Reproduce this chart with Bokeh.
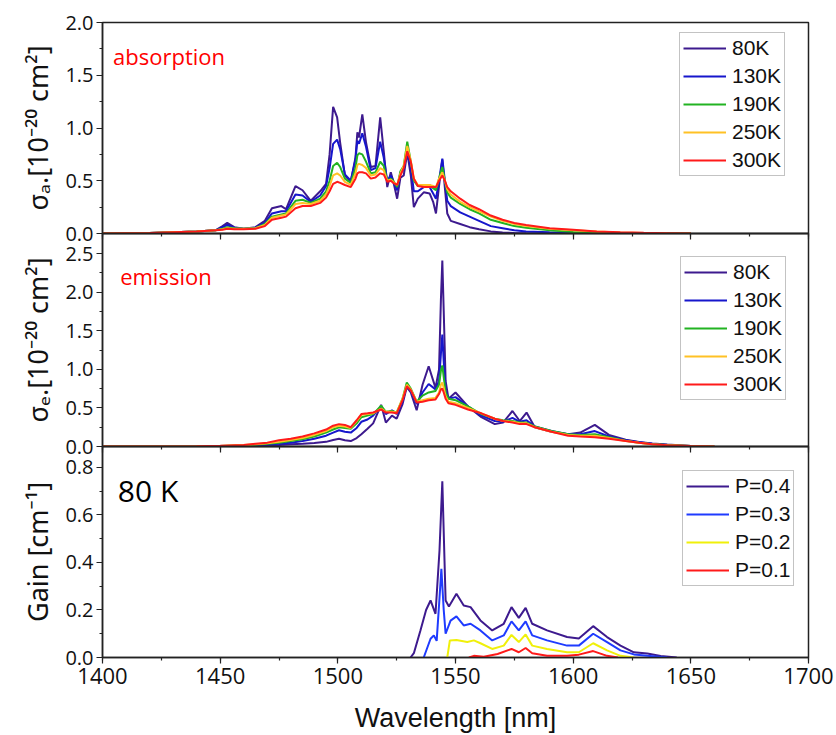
from bokeh.plotting import figure
from bokeh.layouts import column
from bokeh.models import (Range1d, FixedTicker, PrintfTickFormatter, Legend, LegendItem,
                          Label, SingleIntervalTicker, CustomLabelingPolicy)
from bokeh.embed import file_html
from bokeh.resources import INLINE

# ---------------- data ----------------
ABS_WL = [1400, 1420, 1440, 1448, 1451, 1453, 1456, 1460, 1465, 1469,
          1472, 1476, 1478, 1482, 1485, 1488.5, 1492.5, 1495, 1496.5, 1498,
          1499.7, 1501, 1503, 1505.5, 1507.5, 1508.3, 1509, 1510.4, 1512, 1514,
          1516, 1518, 1519.5, 1521, 1522.5, 1523.5, 1525.2, 1526.6, 1528, 1529.5,
          1531, 1532.3, 1534, 1536.5, 1539, 1540.5, 1541.7, 1543, 1544.4, 1545.5,
          1546.5, 1548, 1552, 1556, 1560, 1565, 1570, 1575, 1580, 1590,
          1600, 1610, 1620, 1630, 1640, 1650]
ABS_80K = [0.0, 0.005, 0.02, 0.03, 0.07, 0.10, 0.06, 0.045, 0.06, 0.12,
           0.24, 0.26, 0.23, 0.45, 0.41, 0.31, 0.40, 0.47, 0.75, 1.20,
           1.10, 0.86, 0.55, 0.49, 0.72, 0.96, 0.91, 1.13, 0.86, 0.63,
           0.64, 1.10, 0.78, 0.44, 0.58, 0.50, 0.33, 0.53, 0.55, 0.77,
           0.55, 0.25, 0.33, 0.39, 0.38, 0.30, 0.19, 0.45, 0.70, 0.43,
           0.19, 0.12, 0.09, 0.06, 0.04, 0.02, 0.01, 0.005, 0.003, 0.0,
           0.0, 0.0, 0.0, 0.0, 0.0, 0.0]
ABS_130K = [0.0, 0.005, 0.02, 0.03, 0.06, 0.08, 0.055, 0.045, 0.055, 0.10,
            0.19, 0.21, 0.21, 0.37, 0.36, 0.30, 0.36, 0.45, 0.62, 0.85,
            0.89, 0.80, 0.56, 0.50, 0.70, 0.88, 0.85, 0.95, 0.82, 0.60,
            0.62, 0.87, 0.72, 0.50, 0.55, 0.50, 0.41, 0.58, 0.60, 0.80,
            0.63, 0.40, 0.40, 0.44, 0.44, 0.38, 0.33, 0.50, 0.71, 0.50,
            0.31, 0.26, 0.20, 0.16, 0.12, 0.07, 0.05, 0.03, 0.02, 0.012,
            0.005, 0.002, 0.0, 0.0, 0.0, 0.0]
ABS_190K = [0.0, 0.005, 0.02, 0.03, 0.045, 0.06, 0.05, 0.045, 0.05, 0.09,
            0.16, 0.18, 0.19, 0.31, 0.32, 0.29, 0.33, 0.40, 0.50, 0.64,
            0.67, 0.63, 0.52, 0.48, 0.62, 0.74, 0.76, 0.75, 0.68, 0.57,
            0.58, 0.68, 0.64, 0.50, 0.52, 0.50, 0.44, 0.59, 0.64, 0.87,
            0.68, 0.50, 0.45, 0.46, 0.46, 0.43, 0.41, 0.52, 0.63, 0.50,
            0.39, 0.34, 0.28, 0.23, 0.19, 0.13, 0.10, 0.07, 0.055, 0.03,
            0.015, 0.008, 0.003, 0.0, 0.0, 0.0]
ABS_250K = [0.0, 0.005, 0.02, 0.03, 0.04, 0.05, 0.045, 0.045, 0.05, 0.08,
            0.15, 0.17, 0.18, 0.28, 0.29, 0.28, 0.31, 0.37, 0.45, 0.55,
            0.57, 0.55, 0.49, 0.46, 0.57, 0.65, 0.66, 0.65, 0.62, 0.55,
            0.56, 0.62, 0.60, 0.50, 0.51, 0.49, 0.46, 0.57, 0.64, 0.83,
            0.69, 0.52, 0.46, 0.46, 0.46, 0.45, 0.44, 0.52, 0.58, 0.50,
            0.42, 0.37, 0.30, 0.25, 0.21, 0.16, 0.12, 0.09, 0.07, 0.045,
            0.03, 0.018, 0.01, 0.005, 0.002, 0.0]
ABS_300K = [0.0, 0.005, 0.02, 0.03, 0.035, 0.045, 0.04, 0.04, 0.045, 0.07,
            0.13, 0.15, 0.16, 0.24, 0.26, 0.26, 0.29, 0.34, 0.40, 0.47,
            0.49, 0.48, 0.46, 0.44, 0.52, 0.57, 0.58, 0.58, 0.57, 0.52,
            0.53, 0.57, 0.56, 0.49, 0.50, 0.48, 0.46, 0.55, 0.62, 0.78,
            0.68, 0.52, 0.45, 0.44, 0.44, 0.44, 0.44, 0.50, 0.55, 0.50,
            0.44, 0.40, 0.33, 0.27, 0.23, 0.17, 0.13, 0.10, 0.08, 0.05,
            0.035, 0.02, 0.012, 0.006, 0.003, 0.0]

EM_WL = [1400, 1440, 1450, 1460, 1465, 1470, 1475, 1480, 1485, 1490,
         1495, 1498, 1500.5, 1503, 1505.5, 1508, 1510, 1512.6, 1515, 1518.4,
         1520.4, 1523, 1525, 1527.5, 1529.3, 1531, 1533.5, 1536, 1538.6, 1541.5,
         1543, 1543.8, 1544.4, 1545, 1545.8, 1547, 1550, 1555.3, 1561, 1566.7,
         1570.2, 1574.2, 1577.3, 1580.2, 1583.7, 1590.8, 1597.9, 1603, 1609.2, 1615.2,
         1622.3, 1628, 1633.6, 1640, 1650, 1660]
EM_80K = [0, 0, 0, 0.003, 0.008, 0.015, 0.02, 0.03, 0.035, 0.045,
          0.06, 0.085, 0.10, 0.08, 0.07, 0.11, 0.16, 0.23, 0.30, 0.54,
          0.31, 0.40, 0.36, 0.55, 0.77, 0.70, 0.47, 0.80, 1.04, 0.76,
          1.00, 1.90, 2.41, 1.75, 0.85, 0.62, 0.70, 0.52, 0.38, 0.29,
          0.31, 0.46, 0.33, 0.44, 0.25, 0.19, 0.16, 0.18, 0.28, 0.15,
          0.087, 0.06, 0.04, 0.025, 0.008, 0]
EM_130K = [0, 0, 0.003, 0.008, 0.013, 0.025, 0.035, 0.05, 0.07, 0.10,
           0.14, 0.18, 0.21, 0.19, 0.18, 0.24, 0.32, 0.35, 0.40, 0.52,
           0.42, 0.47, 0.42, 0.58, 0.80, 0.72, 0.55, 0.70, 0.81, 0.74,
           0.85, 1.20, 1.45, 1.10, 0.72, 0.62, 0.64, 0.52, 0.40, 0.33,
           0.32, 0.37, 0.32, 0.34, 0.26, 0.20, 0.16, 0.16, 0.20, 0.13,
           0.08, 0.055, 0.035, 0.02, 0.006, 0]
EM_190K = [0, 0.002, 0.006, 0.015, 0.022, 0.035, 0.05, 0.07, 0.095, 0.13,
           0.18, 0.22, 0.25, 0.24, 0.23, 0.30, 0.38, 0.40, 0.42, 0.53,
           0.45, 0.46, 0.44, 0.62, 0.83, 0.75, 0.58, 0.66, 0.70, 0.72,
           0.80, 0.98, 1.05, 0.90, 0.70, 0.62, 0.60, 0.52, 0.42, 0.36,
           0.34, 0.33, 0.31, 0.31, 0.26, 0.20, 0.16, 0.15, 0.16, 0.12,
           0.075, 0.05, 0.03, 0.018, 0.005, 0]
EM_250K = [0, 0.003, 0.008, 0.018, 0.028, 0.042, 0.06, 0.085, 0.11, 0.15,
           0.20, 0.25, 0.27, 0.26, 0.24, 0.33, 0.41, 0.42, 0.43, 0.49,
           0.45, 0.45, 0.44, 0.62, 0.80, 0.74, 0.58, 0.60, 0.62, 0.63,
           0.70, 0.80, 0.83, 0.76, 0.65, 0.58, 0.56, 0.50, 0.43, 0.36,
           0.33, 0.32, 0.30, 0.30, 0.25, 0.19, 0.15, 0.14, 0.14, 0.11,
           0.07, 0.048, 0.03, 0.017, 0.005, 0]
EM_300K = [0, 0.004, 0.01, 0.02, 0.035, 0.05, 0.08, 0.10, 0.13, 0.17,
           0.22, 0.27, 0.29, 0.28, 0.25, 0.34, 0.42, 0.43, 0.44, 0.48,
           0.44, 0.44, 0.43, 0.60, 0.78, 0.73, 0.57, 0.58, 0.60, 0.61,
           0.68, 0.74, 0.75, 0.70, 0.62, 0.56, 0.54, 0.48, 0.43, 0.36,
           0.33, 0.31, 0.29, 0.29, 0.25, 0.19, 0.14, 0.13, 0.12, 0.10,
           0.07, 0.048, 0.03, 0.017, 0.005, 0]

G04_WL = [1530.9, 1532.3, 1535.1, 1537.5, 1539.4, 1541.5, 1543.2, 1544.4, 1545.8, 1547.2,
          1550.4, 1553.5, 1556.4, 1560.6, 1565.6, 1570.5, 1573.8, 1576.9, 1579.8, 1582.6,
          1588.9, 1597.4, 1602.4, 1608.5, 1614.4, 1620.1, 1625.8, 1631.5, 1637.2, 1644]
G04 = [0, 0.018, 0.114, 0.20, 0.24, 0.184, 0.45, 0.742, 0.24, 0.215,
       0.268, 0.219, 0.212, 0.156, 0.114, 0.142, 0.212, 0.167, 0.209, 0.142,
       0.114, 0.086, 0.08, 0.132, 0.086, 0.05, 0.022, 0.017, 0.006, 0]
G03_WL = [1536.5, 1539.4, 1540.8, 1542.0, 1543.2, 1544.0, 1545.0, 1545.8, 1547.9, 1550.4,
          1553.5, 1556.4, 1560.6, 1565.6, 1570.5, 1573.8, 1576.9, 1579.8, 1582.6, 1588.9,
          1597.4, 1602.4, 1608.5, 1614.4, 1620.1, 1625.8, 1631.5, 1640]
G03 = [0, 0.079, 0.093, 0.07, 0.25, 0.373, 0.2, 0.10, 0.155, 0.173,
       0.135, 0.142, 0.114, 0.072, 0.093, 0.152, 0.114, 0.152, 0.093, 0.072,
       0.05, 0.05, 0.10, 0.065, 0.03, 0.013, 0.007, 0]
G02_WL = [1546.5, 1547.6, 1550.4, 1555.0, 1557.8, 1560.6, 1565.6, 1570.5, 1573.8, 1576.9,
          1579.8, 1582.6, 1588.9, 1597.4, 1602.4, 1608.5, 1614.4, 1620.1, 1625.8]
G02 = [0, 0.072, 0.074, 0.065, 0.072, 0.06, 0.036, 0.05, 0.095, 0.065,
       0.097, 0.05, 0.036, 0.022, 0.022, 0.06, 0.03, 0.007, 0]
G01_WL = [1555.7, 1557.8, 1562.0, 1567.9, 1573.8, 1576.9, 1579.8, 1582.6, 1588.9, 1597.4,
          1602.4, 1608.5, 1614.4, 1619.0]
G01 = [0, 0.007, 0.003, 0.015, 0.036, 0.022, 0.04, 0.018, 0.007, 0.007,
       0.012, 0.027, 0.007, 0]

TEMP_LABELS = ["80K", "130K", "190K", "250K", "300K"]
TEMP_COLORS = ["#3D1A8E", "#1616CC", "#22B322", "#FFC125", "#FF1A1A"]
GAIN_LABELS = ["P=0.4", "P=0.3", "P=0.2", "P=0.1"]
GAIN_COLORS = ["#3D1A8E", "#1F3BFF", "#F0F00A", "#FF1A1A"]

Y1_TICKS = [0.0, 0.5, 1.0, 1.5, 2.0]
Y2_TICKS = [0.0, 0.5, 1.0, 1.5, 2.0, 2.5]
Y3_TICKS = [0.0, 0.2, 0.4, 0.6, 0.8]

# ---------------- styling ----------------
TICK_FONT = "Open Sans"
TITLE_FONT = "Liberation Sans"
YTITLE_FONT = "Noto Sans"
PAD = 12          # extra border above/below inner panels, overlapped by negative margins
AXIS_COLOR = "#222222"
x_range = Range1d(1400, 1700)


def style_xticks(xa):
    xa.ticker = SingleIntervalTicker(interval=50, num_minor_ticks=2)
    xa.major_tick_in = 0
    xa.major_tick_out = 6
    xa.minor_tick_in = 0
    xa.minor_tick_out = 3
    xa.axis_line_width = 1.5
    xa.axis_line_color = AXIS_COLOR
    xa.major_tick_line_color = AXIS_COLOR
    xa.minor_tick_line_color = AXIS_COLOR
    xa.major_tick_line_width = 1.2
    xa.minor_tick_line_width = 1.2


def make_fig(y_end, frame_h, top, bottom, ticks, minor, ylabel):
    p = figure(frame_width=706, frame_height=frame_h, x_range=x_range,
               y_range=Range1d(0, y_end), output_backend="svg", toolbar_location=None,
               min_border_left=102, min_border_right=28,
               min_border_top=top, min_border_bottom=bottom)
    p.xgrid.visible = False
    p.ygrid.visible = False
    p.outline_line_color = AXIS_COLOR
    p.outline_line_width = 1.5
    ya = p.yaxis[0]
    ya.ticker = FixedTicker(ticks=ticks, minor_ticks=minor)
    ya.formatter = PrintfTickFormatter(format="%.1f")
    ya.major_label_text_font = TICK_FONT
    ya.major_label_text_font_size = "20px"
    ya.major_label_text_color = "#111111"
    ya.major_label_standoff = 3
    ya.major_tick_in = 0
    ya.major_tick_out = 6
    ya.minor_tick_in = 0
    ya.minor_tick_out = 3
    ya.axis_line_width = 1.5
    ya.axis_line_color = AXIS_COLOR
    ya.major_tick_line_color = AXIS_COLOR
    ya.minor_tick_line_color = AXIS_COLOR
    ya.major_tick_line_width = 1.2
    ya.minor_tick_line_width = 1.2
    ya.axis_label = ylabel
    ya.axis_label_text_font = YTITLE_FONT
    ya.axis_label_text_font_size = "27px"
    ya.axis_label_text_font_style = "normal"
    ya.axis_label_text_color = "#111111"
    ya.axis_label_standoff = 6
    xa = p.xaxis[0]
    style_xticks(xa)
    return p


def hide_x_labels(p):
    # tick marks only on the shared panel boundary: no tick labels are drawn
    xa = p.xaxis[0]
    xa.major_label_text_font_size = "1px"
    xa.major_label_standoff = 0
    xa.major_label_policy = CustomLabelingPolicy(
        code="for (const i of Array.from(indices)) { indices.unset(i) }")
    xa.axis_label = None


def add_legend(p, items, loc):
    lg = Legend(items=items, location=loc, label_text_font=TITLE_FONT,
                label_text_font_size="21px", label_text_color="#111111",
                glyph_width=43, glyph_height=20, label_height=20, label_standoff=6,
                spacing=4, padding=3, margin=0, border_line_color="#888888",
                border_line_width=1, background_fill_alpha=1.0)
    p.add_layout(lg)


# Panel 1: absorption
p1 = make_fig(2.0, 211, 22, PAD, Y1_TICKS, [0.25, 0.75, 1.25, 1.75], "σₐ.[10⁻²⁰ cm²]")
hide_x_labels(p1)
items = []
for lab, col, ys in zip(TEMP_LABELS, TEMP_COLORS,
                        [ABS_80K, ABS_130K, ABS_190K, ABS_250K, ABS_300K]):
    r = p1.line(ABS_WL, ys, line_color=col, line_width=2)
    items.append(LegendItem(label=lab, renderers=[r]))
add_legend(p1, items, (577, 57))
p1.add_layout(Label(x=1404.5, y=1.68, text="absorption", text_color="#FF0000",
                    text_font=TICK_FONT, text_font_size="22px", text_baseline="middle"))

# Panel 2: emission
p2 = make_fig(2.76, 213, PAD, PAD, Y2_TICKS, [0.25, 0.75, 1.25, 1.75, 2.25], "σₑ.[10⁻²⁰ cm²]")
hide_x_labels(p2)
p2.border_fill_alpha = 0.0
p2.background_fill_alpha = 0.0
p2.margin = (-2 * PAD, 0, 0, 0)
items = []
for lab, col, ys in zip(TEMP_LABELS, TEMP_COLORS,
                        [EM_80K, EM_130K, EM_190K, EM_250K, EM_300K]):
    r = p2.line(EM_WL, ys, line_color=col, line_width=2)
    items.append(LegendItem(label=lab, renderers=[r]))
add_legend(p2, items, (578, 46))
p2.add_layout(Label(x=1407.5, y=2.215, text="emission", text_color="#FF0000",
                    text_font=TICK_FONT, text_font_size="22px", text_baseline="middle"))

# Panel 3: gain
p3 = make_fig(0.888, 211, PAD, 78, Y3_TICKS, [0.1, 0.3, 0.5, 0.7], "Gain [cm⁻¹]")
p3.border_fill_alpha = 0.0
p3.background_fill_alpha = 0.0
p3.margin = (-2 * PAD, 0, 0, 0)
xa = p3.xaxis[0]
xa.major_label_text_font = TICK_FONT
xa.major_label_text_font_size = "22px"
xa.major_label_text_color = "#111111"
xa.major_label_standoff = 4
xa.axis_label = "Wavelength [nm]"
xa.axis_label_text_font = TITLE_FONT
xa.axis_label_text_font_size = "27px"
xa.axis_label_text_font_style = "normal"
xa.axis_label_text_color = "#111111"
xa.axis_label_standoff = 16
items = []
for lab, col, xs, ys in zip(GAIN_LABELS, GAIN_COLORS,
                            [G04_WL, G03_WL, G02_WL, G01_WL], [G04, G03, G02, G01]):
    r = p3.line(xs, ys, line_color=col, line_width=2)
    items.append(LegendItem(label=lab, renderers=[r]))
add_legend(p3, items, (580, 71))
p3.add_layout(Label(x=1406.5, y=0.703, text="80 K", text_color="#000000",
                    text_font=TICK_FONT, text_font_size="30px", text_baseline="middle"))

layout = column(p1, p2, p3, spacing=0)
open("out.html", "w").write(file_html(layout, INLINE))
